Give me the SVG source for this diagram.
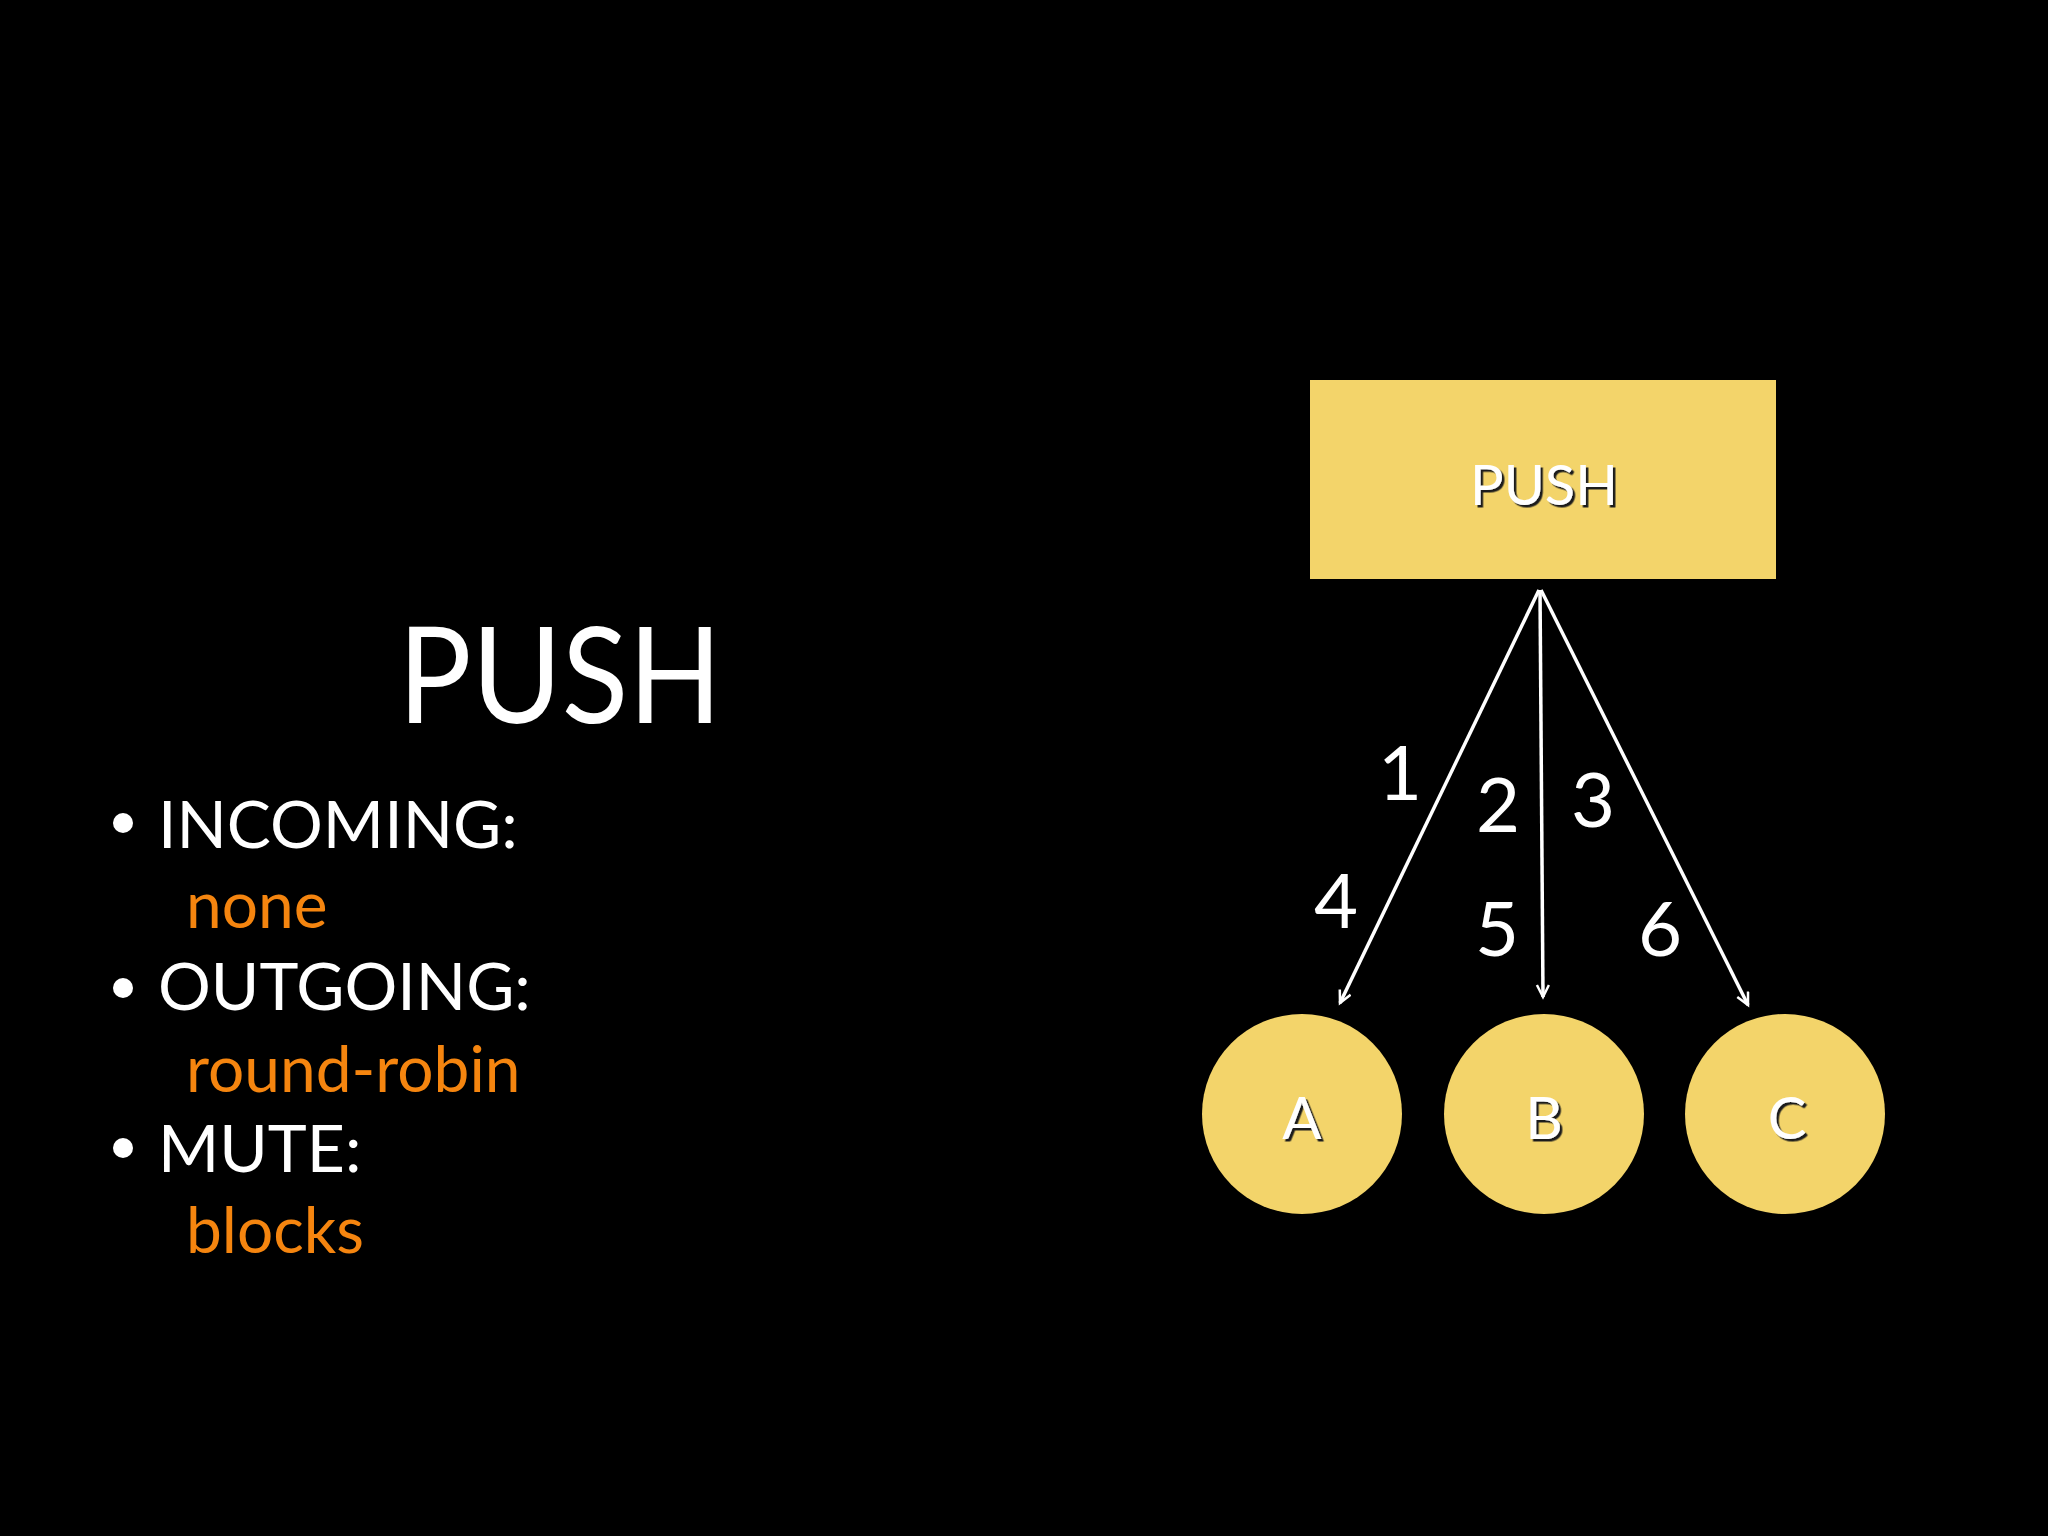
<svg xmlns="http://www.w3.org/2000/svg" width="2048" height="1536" viewBox="0 0 2048 1536">
<style>
.bg{fill:#000}
.node{fill:#f3d46a}
.lbl{font-family:Lato,"Liberation Sans",sans-serif;fill:#fff;text-anchor:middle;filter:url(#sh)}
.num{font-family:Lato,"Liberation Sans",sans-serif;fill:#fff;font-size:76px;text-anchor:middle}
.title{font-family:Lato,"Liberation Sans",sans-serif;fill:#fff;font-size:133px}
.head{font-family:Lato,"Liberation Sans",sans-serif;fill:#fff;font-size:66px}
.val{font-family:Lato,"Liberation Sans",sans-serif;fill:#f5850f;font-size:64px}
.edge{stroke:#fff;stroke-width:3.5;fill:none;marker-end:url(#arr)}
</style>
<defs>
<filter id="sh" x="-20%" y="-20%" width="140%" height="140%">
<feDropShadow dx="2.5" dy="2.5" stdDeviation="0.6" flood-color="#1a1a1a" flood-opacity="1"/>
</filter>
<marker id="arr" markerUnits="userSpaceOnUse" markerWidth="20" markerHeight="20" refX="14" refY="7" orient="auto">
<path d="M2,1 L14,7 L2,13" fill="none" stroke="#fff" stroke-width="2.5"/>
</marker>
</defs>
<rect class="bg" x="0" y="0" width="2048" height="1536"/>

<g id="title">
<text class="title" x="398" y="723" textLength="324" lengthAdjust="spacingAndGlyphs">PUSH</text>
</g>
<g id="bullets">
<circle cx="123" cy="823" r="10" fill="#fff"/>
<text class="head" x="158" y="848">INCOMING:</text>
<text class="val" x="186" y="928">none</text>
<circle cx="123" cy="988" r="10" fill="#fff"/>
<text class="head" x="158" y="1010">OUTGOING:</text>
<text class="val" x="186" y="1092">round-robin</text>
<circle cx="123" cy="1148" r="10" fill="#fff"/>
<text class="head" x="158" y="1172">MUTE:</text>
<text class="val" x="186" y="1253">blocks</text>
</g>

<g id="node-push">
<rect class="node" x="1310" y="380" width="466" height="199"/>
<text class="lbl" x="1544" y="505" font-size="56">PUSH</text>
</g>
<g id="node-a">
<circle class="node" cx="1302" cy="1114" r="100"/>
<text class="lbl" x="1302" y="1139" font-size="58">A</text>
</g>
<g id="node-b">
<circle class="node" cx="1544" cy="1114" r="100"/>
<text class="lbl" x="1544" y="1139" font-size="58">B</text>
</g>
<g id="node-c">
<circle class="node" cx="1785" cy="1114" r="100"/>
<text class="lbl" x="1787" y="1139" font-size="58">C</text>
</g>

<g id="connectors">
<line class="edge" x1="1539" y1="590" x2="1340" y2="1003"/>
<line class="edge" x1="1540" y1="590" x2="1543" y2="997"/>
<line class="edge" x1="1541" y1="590" x2="1748" y2="1005"/>
<text class="num" x="1400" y="800">1</text>
<text class="num" x="1498" y="832">2</text>
<text class="num" x="1593" y="827">3</text>
<text class="num" x="1336" y="928">4</text>
<text class="num" x="1497" y="956">5</text>
<text class="num" x="1660" y="956">6</text>
</g>
</svg>
